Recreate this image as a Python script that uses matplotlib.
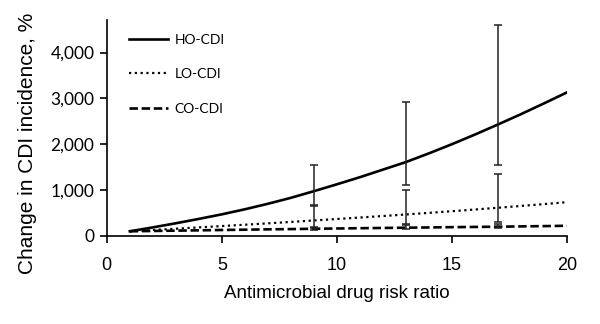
import matplotlib as mpl
import matplotlib.pyplot as plt
import numpy as np
from matplotlib.ticker import FuncFormatter

# Modelled change in CDI incidence by antimicrobial drug risk ratio
risk_ratio = list(range(1, 21))
ho_cdi = [100, 185, 275, 370, 470, 580, 700, 830, 975, 1125,
          1280, 1445, 1610, 1800, 2000, 2210, 2430, 2655, 2890, 3130]
lo_cdi = [100, 128, 156, 185, 214, 243, 273, 304, 336, 368,
          400, 433, 467, 502, 538, 575, 613, 653, 693, 735]
co_cdi = [100, 107, 114, 121, 128, 135, 142, 148, 155, 161,
          167, 173, 178, 184, 190, 195, 200, 207, 213, 220]

# uncertainty ranges at selected risk ratios
err_x = [9, 13, 17]
ho_low = [680, 1105, 1554]
ho_high = [1550, 2930, 4600]
lo_low = [170, 260, 300]
lo_high = [660, 995, 1352]
co_low = [135, 160, 175]
co_high = [190, 230, 250]

mpl.rcParams.update({
    "font.family": ["Liberation Sans", "DejaVu Sans"],
})

fig = plt.figure(figsize=(6.0, 3.24), dpi=100)
ax = fig.add_axes([0.178, 0.272, 0.767, 0.665])

ax.plot(risk_ratio, ho_cdi, color="black", lw=1.9, ls="-", label="HO-CDI")
ax.plot(risk_ratio, lo_cdi, color="black", lw=1.6, ls=(0, (1, 1.6)), label="LO-CDI")
ax.plot(risk_ratio, co_cdi, color="black", lw=1.9, ls=(0, (3.2, 1.4)), label="CO-CDI")

for series, low, high in ((ho_cdi, ho_low, ho_high),
                          (lo_cdi, lo_low, lo_high),
                          (co_cdi, co_low, co_high)):
    mid = np.array([series[risk_ratio.index(x)] for x in err_x])
    yerr = [mid - np.array(low), np.array(high) - mid]
    ax.errorbar(err_x, mid, yerr=yerr, fmt="none", ecolor="#222222",
                elinewidth=1.1, capsize=2.9, capthick=1.1)

ax.set_xlim(0, 20)
ax.set_ylim(0, 4700)
ax.set_xticks([0, 5, 10, 15, 20])
ax.set_yticks([0, 1000, 2000, 3000, 4000])
ax.yaxis.set_major_formatter(FuncFormatter(lambda v, _: f"{int(v):,}"))

for side in ("top", "right"):
    ax.spines[side].set_visible(False)
for side in ("left", "bottom"):
    ax.spines[side].set_linewidth(1.2)

ax.tick_params(axis="x", direction="out", length=5, width=1.2, labelsize=13, pad=10)
ax.tick_params(axis="y", direction="out", length=5, width=1.2, pad=4)
for lbl in ax.get_yticklabels():
    lbl.set_family(["Lato", "DejaVu Sans"])
    lbl.set_fontsize(12.5)

ax.set_xlabel("Antimicrobial drug risk ratio", fontsize=13.5, labelpad=8)
ax.set_ylabel("Change in CDI incidence, %", fontsize=15)
ax.yaxis.set_label_coords(-0.152, 0.43)

leg = ax.legend(loc="upper left", bbox_to_anchor=(0.037, 0.965), frameon=False,
                handlelength=2.75, handletextpad=0.5, labelspacing=1.62,
                borderaxespad=0.0, prop={"family": ["Lato", "DejaVu Sans"], "size": 10})

fig.savefig("out.png", dpi=100)
